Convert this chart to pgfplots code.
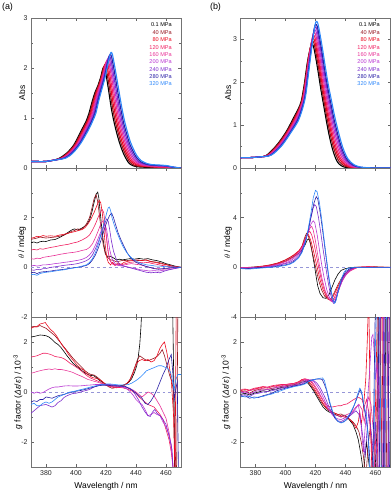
\documentclass[border=0pt]{standalone}
\usepackage{fontspec}
\setmainfont{Liberation Sans}
\usepackage{pgfplots}
\pgfplotsset{compat=1.18}
\definecolor{c0}{RGB}{0,0,0}
\definecolor{c1}{RGB}{150,20,30}
\definecolor{c2}{RGB}{235,10,30}
\definecolor{c3}{RGB}{240,30,95}
\definecolor{c4}{RGB}{232,50,150}
\definecolor{c5}{RGB}{185,55,210}
\definecolor{c6}{RGB}{125,45,205}
\definecolor{c7}{RGB}{40,30,165}
\definecolor{c8}{RGB}{45,135,250}
\definecolor{zl}{RGB}{150,150,215}
\tikzset{leg/.style={anchor=east, inner sep=0pt, font=\fontsize{5.6}{6}\selectfont}}
\pgfplotsset{
  base/.style={scale only axis, width=150bp, xmin=370, xmax=470,
    xtick={380,400,420,440,460}, tick align=inside, tick pos=both,
    major tick length=3bp, minor tick length=1.8bp,
    axis line style={black!55, line width=0.8bp},
    every tick/.style={black!60, line width=0.5bp},
    /pgf/number format/assume math mode=true,
    tick label style={font=\fontsize{7}{8}\selectfont, text=black!85},
    label style={font=\fontsize{8.5}{10}\selectfont},
    clip=true},
  noxl/.style={xticklabel={\mbox{}}},
  yl/.style={ylabel style={at={(axis description cs:#1,0.5)}, anchor=center}},
  zline/.style={dashed, color=zl, line width=0.5bp},
  ab/.style={line width=1.1bp, smooth},
  cd/.style={line width=0.6bp},
}
\begin{document}
\begin{tikzpicture}
\path[use as bounding box] (0,0) rectangle (392bp,503bp);
\node[font=\fontsize{9}{10}\selectfont] at (7.5bp,495.5bp) {(a)};
\node[font=\fontsize{9}{10}\selectfont] at (215.5bp,495.5bp) {(b)};

% ================= (a) Abs =================
\begin{axis}[base, noxl, yl=-0.06, at={(31bp,335bp)}, anchor=south west, height=150bp,
  ymin=0, ymax=3, ytick={0,1,2,3}, minor ytick={0.5,1.5,2.5}, ylabel={Abs}]
\addplot[c0,ab] coordinates {(370,0.13)(380,0.13)(384,0.15)(388.5,0.19)(393.5,0.29)(398.5,0.46)(403.5,0.75)(406.5,0.92)(408.5,1.08)(410.5,1.30)(412.5,1.50)(414.5,1.64)(416.5,1.82)(417.5,1.95)(418.5,2.02)(419.5,1.95)(421.5,1.60)(423.5,1.20)(425.5,0.90)(427.5,0.66)(429.5,0.46)(431.5,0.30)(433.5,0.18)(435.5,0.09)(438.5,0.04)(442.5,0.02)(450,0.01)(455,0)(460,0)(465,0)(470,0)};
\addplot[c1,ab] coordinates {(370,0.13)(380,0.13)(384,0.15)(389.1,0.19)(394.1,0.29)(399.1,0.465)(404.1,0.75)(407.1,0.92)(409.1,1.08)(411.1,1.31)(413.1,1.51)(415.1,1.66)(417.1,1.85)(418.1,1.98)(419.1,2.06)(420.1,1.99)(422.1,1.64)(424.1,1.25)(426.1,0.94)(428.1,0.70)(430.1,0.49)(432.1,0.33)(434.1,0.205)(436.1,0.11)(439.1,0.05)(443.1,0.03)(450,0.02)(455,0.01)(460,0.006)(465,0)(470,0)};
\addplot[c2,ab] coordinates {(370,0.13)(380,0.13)(384,0.15)(389.7,0.19)(394.7,0.30)(399.7,0.47)(404.7,0.75)(407.7,0.93)(409.7,1.085)(411.7,1.315)(413.7,1.52)(415.7,1.68)(417.7,1.885)(418.7,2.02)(419.7,2.09)(420.7,2.03)(422.7,1.69)(424.7,1.30)(426.7,0.99)(428.7,0.73)(430.7,0.525)(432.7,0.355)(434.7,0.23)(436.7,0.13)(439.7,0.07)(443.7,0.04)(450,0.025)(455,0.015)(460,0.012)(465,0.005)(470,0)};
\addplot[c3,ab] coordinates {(370,0.13)(380,0.13)(384,0.15)(390.3,0.19)(395.3,0.30)(400.3,0.475)(405.3,0.75)(408.3,0.93)(410.3,1.09)(412.3,1.32)(414.3,1.53)(416.3,1.70)(418.3,1.92)(419.3,2.05)(420.3,2.13)(421.3,2.07)(423.3,1.73)(425.3,1.35)(427.3,1.03)(429.3,0.77)(431.3,0.56)(433.3,0.38)(435.3,0.255)(437.3,0.15)(440.3,0.08)(444.3,0.05)(450,0.03)(455,0.02)(460,0.019)(465,0.01)(470,0)};
\addplot[c4,ab] coordinates {(370,0.13)(380,0.13)(384,0.15)(390.9,0.195)(395.9,0.30)(400.9,0.48)(405.9,0.755)(408.9,0.935)(410.9,1.09)(412.9,1.33)(414.9,1.54)(416.9,1.72)(418.9,1.95)(419.9,2.085)(420.9,2.165)(421.9,2.11)(423.9,1.78)(425.9,1.40)(427.9,1.075)(429.9,0.805)(431.9,0.59)(433.9,0.41)(435.9,0.28)(437.9,0.175)(440.9,0.095)(444.9,0.055)(450,0.04)(455,0.03)(460,0.025)(465,0.01)(470,0)};
\addplot[c5,ab] coordinates {(370,0.13)(380,0.13)(384,0.15)(391.5,0.20)(396.5,0.30)(401.5,0.485)(406.5,0.755)(409.5,0.94)(411.5,1.09)(413.5,1.34)(415.5,1.55)(417.5,1.74)(419.5,1.98)(420.5,2.12)(421.5,2.20)(422.5,2.15)(424.5,1.82)(426.5,1.45)(428.5,1.12)(430.5,0.84)(432.5,0.62)(434.5,0.44)(436.5,0.305)(438.5,0.195)(441.5,0.11)(445.5,0.065)(450,0.05)(455,0.04)(460,0.031)(465,0.01)(470,0)};
\addplot[c6,ab] coordinates {(370,0.13)(380,0.13)(384,0.15)(392.1,0.20)(397.1,0.31)(402.1,0.49)(407.1,0.76)(410.1,0.94)(412.1,1.095)(414.1,1.345)(416.1,1.56)(418.1,1.76)(420.1,2.015)(421.1,2.15)(422.1,2.24)(423.1,2.19)(425.1,1.86)(427.1,1.50)(429.1,1.16)(431.1,0.88)(433.1,0.655)(435.1,0.465)(437.1,0.33)(439.1,0.22)(442.1,0.12)(446.1,0.075)(450,0.055)(455,0.045)(460,0.037)(465,0.015)(470,0)};
\addplot[c7,ab] coordinates {(370,0.13)(380,0.13)(384,0.15)(392.7,0.20)(397.7,0.31)(402.7,0.495)(407.7,0.76)(410.7,0.95)(412.7,1.10)(414.7,1.35)(416.7,1.57)(418.7,1.78)(420.7,2.05)(421.7,2.19)(422.7,2.27)(423.7,2.23)(425.7,1.91)(427.7,1.55)(429.7,1.21)(431.7,0.91)(433.7,0.69)(435.7,0.49)(437.7,0.355)(439.7,0.24)(442.7,0.135)(446.7,0.08)(450,0.06)(455,0.05)(460,0.044)(465,0.015)(470,0)};
\addplot[c8,ab] coordinates {(370,0.13)(380,0.13)(384,0.15)(393.3,0.20)(398.3,0.31)(403.3,0.50)(408.3,0.76)(411.3,0.95)(413.3,1.10)(415.3,1.36)(417.3,1.58)(419.3,1.80)(421.3,2.08)(422.3,2.22)(423.3,2.31)(424.3,2.27)(426.3,1.95)(428.3,1.60)(430.3,1.25)(432.3,0.95)(434.3,0.72)(436.3,0.52)(438.3,0.38)(440.3,0.26)(443.3,0.15)(447.3,0.09)(450,0.07)(455,0.06)(460,0.05)(465,0.02)(470,0)};
\node[leg,text=c0] at (rel axis cs:0.94,0.953) {0.1 MPa};
\node[leg,text=c1] at (rel axis cs:0.94,0.904) {40 MPa};
\node[leg,text=c2] at (rel axis cs:0.94,0.855) {80 MPa};
\node[leg,text=c3] at (rel axis cs:0.94,0.806) {120 MPa};
\node[leg,text=c4] at (rel axis cs:0.94,0.757) {160 MPa};
\node[leg,text=c5] at (rel axis cs:0.94,0.708) {200 MPa};
\node[leg,text=c6] at (rel axis cs:0.94,0.659) {240 MPa};
\node[leg,text=c7] at (rel axis cs:0.94,0.610) {280 MPa};
\node[leg,text=c8] at (rel axis cs:0.94,0.561) {320 MPa};
\end{axis}

% ================= (a) CD =================
\begin{axis}[base, noxl, yl=-0.06, at={(31bp,186bp)}, anchor=south west, height=149bp,
  ymin=-2, ymax=4, ytick={-2,0,2}, minor ytick={-1,1,3}, ylabel={$\theta$ / mdeg}]
\addplot[zline] coordinates {(370,0)(470,0)};
\addplot[c0,cd] coordinates {(370,1.0)(372,1.02)(374,0.98)(376,1.03)(378,1.05)(380,1.04)(383,1.1)(386,1.12)(389,1.2)(392,1.3)(395,1.42)(397,1.5)(399,1.55)(401,1.5)(403,1.55)(405,1.62)(407,1.7)(409,1.9)(410.5,2.2)(412,2.6)(413.5,2.95)(414.5,3.03)(415.2,2.8)(416,2.3)(417,1.7)(418,1.15)(419,0.75)(420,0.5)(421.5,0.42)(423,0.45)(425,0.38)(427,0.3)(429,0.33)(431,0.3)(433,0.32)(436,0.35)(439,0.33)(442,0.36)(445,0.33)(448,0.35)(451,0.3)(454,0.27)(457,0.22)(460,0.15)(463,0.1)(466,0.05)(470,0.0)};
\addplot[c1,cd] coordinates {(370,1.13)(372,1.15)(374,1.18)(376,1.22)(378,1.2)(380,1.18)(383,1.2)(386,1.22)(389,1.25)(392,1.3)(395,1.38)(397,1.45)(399,1.48)(401,1.55)(403,1.52)(405,1.6)(407,1.75)(409,2.0)(410.5,2.35)(412,2.75)(413.3,2.93)(414.3,2.7)(415.2,2.3)(416.2,1.8)(417.2,1.3)(418.2,0.9)(419.5,0.55)(421,0.4)(423,0.3)(425,0.28)(427,0.22)(429,0.25)(431,0.28)(434,0.27)(437,0.3)(440,0.28)(443,0.27)(446,0.3)(449,0.25)(452,0.22)(455,0.2)(458,0.15)(461,0.1)(464,0.05)(467,0.02)(470,0.0)};
\addplot[c2,cd] coordinates {(370,1.17)(372,1.2)(374,1.25)(376,1.23)(378,1.28)(380,1.25)(383,1.27)(386,1.25)(389,1.3)(392,1.33)(395,1.38)(398,1.42)(401,1.47)(404,1.52)(406,1.6)(408,1.75)(410,1.95)(412,2.2)(414,2.5)(415.5,2.7)(416.5,2.6)(417.5,2.2)(418.5,1.6)(419.5,0.9)(420.5,0.4)(421.5,0.2)(423,0.1)(424.5,0.2)(426,0.08)(428,0.18)(430,0.12)(432,0.2)(435,0.25)(438,0.28)(441,0.3)(444,0.27)(447,0.3)(450,0.22)(453,0.2)(456,0.15)(459,0.12)(462,0.08)(466,0.03)(470,0.0)};
\addplot[c3,cd] coordinates {(370,0.7)(372,0.72)(374,0.7)(376,0.75)(378,0.73)(380,0.76)(383,0.8)(386,0.83)(389,0.87)(392,0.9)(395,0.93)(398,0.98)(401,1.02)(404,1.1)(407,1.2)(409,1.3)(411,1.5)(413,1.75)(415,2.05)(416.5,2.25)(417.5,2.33)(418.5,2.2)(419.5,1.7)(420.5,1.1)(421.5,0.6)(422.5,0.3)(424,0.15)(426,0.1)(428,0.12)(430,0.1)(433,0.15)(436,0.2)(439,0.22)(442,0.2)(445,0.18)(448,0.2)(451,0.15)(454,0.12)(457,0.08)(460,0.05)(464,0.02)(470,0.0)};
\addplot[c4,cd] coordinates {(370,0.35)(372,0.33)(374,0.37)(376,0.35)(378,0.4)(380,0.42)(383,0.45)(386,0.48)(389,0.52)(392,0.55)(395,0.58)(398,0.6)(401,0.63)(404,0.68)(407,0.72)(409,0.8)(411,0.95)(413,1.2)(415,1.5)(416.5,1.75)(417.5,1.85)(418.5,1.87)(419.5,1.6)(420.5,1.1)(421.5,0.6)(422.5,0.3)(424,0.15)(426,0.08)(428,0.1)(431,0.08)(434,0.12)(437,0.15)(440,0.12)(443,0.1)(446,0.05)(449,0.0)(452,-0.05)(455,-0.05)(458,-0.08)(461,-0.05)(465,0.0)(470,0.0)};
\addplot[c5,cd] coordinates {(370,0.05)(372,0.08)(374,0.05)(376,0.07)(378,0.1)(380,0.1)(383,0.12)(386,0.15)(389,0.17)(392,0.2)(395,0.22)(398,0.25)(401,0.28)(404,0.32)(407,0.4)(409,0.5)(411,0.65)(413,0.9)(415,1.2)(417,1.5)(418.5,1.65)(419.5,1.7)(420.5,1.5)(421.5,1.1)(422.5,0.7)(424,0.35)(426,0.15)(428,0.08)(431,0.05)(434,0.02)(437,-0.02)(440,-0.05)(443,-0.1)(446,-0.12)(449,-0.15)(452,-0.13)(455,-0.15)(458,-0.12)(461,-0.1)(465,-0.05)(470,0.0)};
\addplot[c6,cd] coordinates {(370,-0.1)(372,-0.12)(374,-0.08)(376,-0.1)(378,-0.05)(380,-0.05)(383,0.0)(386,0.02)(389,0.05)(392,0.08)(395,0.1)(398,0.12)(401,0.15)(404,0.2)(407,0.27)(409,0.35)(411,0.5)(413,0.75)(415,1.05)(417,1.4)(419,1.75)(420.5,1.95)(421.5,1.85)(422.5,1.5)(423.5,1.1)(425,0.65)(427,0.3)(429,0.12)(432,0.05)(435,0.0)(438,-0.05)(441,-0.1)(444,-0.15)(447,-0.2)(450,-0.22)(453,-0.2)(456,-0.22)(459,-0.15)(462,-0.1)(466,-0.05)(470,0.0)};
\addplot[c7,cd] coordinates {(370,-0.22)(372,-0.2)(374,-0.25)(376,-0.2)(378,-0.18)(380,-0.17)(383,-0.15)(386,-0.12)(389,-0.1)(392,-0.08)(395,-0.05)(398,-0.02)(401,0.0)(404,0.03)(407,0.08)(409,0.15)(411,0.3)(413,0.5)(415,0.8)(417,1.15)(419,1.55)(421,1.9)(422.5,2.1)(423.8,2.18)(425,2.0)(426.5,1.7)(428,1.4)(430,1.1)(432,0.85)(434,0.6)(436,0.42)(438,0.3)(440,0.2)(443,0.12)(446,0.05)(449,0.0)(452,-0.05)(455,-0.08)(458,-0.05)(462,-0.03)(466,0.0)(470,0.0)};
\addplot[c8,cd] coordinates {(370,-0.3)(372,-0.28)(374,-0.32)(376,-0.25)(378,-0.22)(380,-0.2)(383,-0.18)(386,-0.15)(389,-0.12)(392,-0.1)(395,-0.06)(398,-0.03)(401,0.0)(404,0.05)(407,0.1)(409,0.2)(411,0.35)(413,0.6)(415,0.95)(417,1.4)(419,1.85)(420.5,2.2)(421.5,2.4)(422.2,2.43)(423,2.3)(424,2.0)(425.5,1.7)(427,1.45)(429,1.15)(431,0.88)(433,0.67)(435,0.5)(437,0.38)(439,0.3)(441,0.22)(444,0.15)(447,0.1)(450,0.08)(453,0.05)(456,0.05)(459,0.03)(463,0.02)(470,0.0)};
\end{axis}

% ================= (a) g =================
\begin{axis}[base, yl=-0.087, at={(31bp,36bp)}, anchor=south west, height=150bp,
  ymin=-3, ymax=3, ytick={-2,0,2}, minor ytick={-1,1},
  xlabel={Wavelength / nm},
  ylabel={\textit{g} factor (\textit{Δε}/\textit{ε}) / 10\textsuperscript{-3}}]
\addplot[zline] coordinates {(370,0)(470,0)};
\addplot[c0,cd] coordinates {(370,2.2)(372,2.22)(374,2.25)(376,2.28)(378,2.27)(380,2.25)(382,2.2)(384,2.1)(386,1.98)(388,1.9)(390,1.78)(392,1.62)(394,1.45)(396,1.3)(398,1.15)(400,1.05)(402,0.95)(404,0.85)(406,0.76)(408,0.7)(410,0.66)(412,0.65)(414,0.55)(416,0.45)(418,0.38)(420,0.3)(422,0.26)(424,0.24)(427,0.24)(430,0.25)(433,0.3)(435,0.38)(437,0.52)(439,0.78)(440.5,1.05)(441.5,1.4)(442.5,1.9)(443.3,2.6)(444,3.5)(446,5)(464,5)(465.2,0.4)(466,-5)(470,-5)};
\addplot[c1,cd] coordinates {(370,2.6)(372,2.62)(374,2.6)(376,2.66)(378,2.6)(380,2.55)(382,2.45)(384,2.35)(386,2.25)(388,2.1)(390,1.95)(392,1.8)(394,1.65)(396,1.5)(398,1.35)(400,1.22)(402,1.1)(404,0.98)(406,0.85)(408,0.76)(410,0.7)(412,0.68)(414,0.6)(416,0.5)(418,0.38)(420,0.28)(422,0.2)(424,0.15)(426,0.17)(428,0.2)(430,0.24)(432,0.28)(434,0.35)(436,0.5)(438,0.8)(439.5,1.05)(441,1.3)(442.5,1.45)(444,1.38)(446,1.3)(448,1.25)(450,1.3)(452,1.35)(454,1.42)(456,1.55)(457.5,1.7)(459,1.45)(461,1.0)(462.5,0.65)(464,0.4)(465,0.0)(466,-2.0)(467,-4)(468,4)(469,4)};
\addplot[c2,cd] coordinates {(370,2.55)(372,2.6)(374,2.62)(376,2.72)(378,2.75)(379.5,2.78)(381,2.65)(383,2.5)(385,2.4)(387,2.25)(389,2.05)(391,1.85)(393,1.7)(395,1.5)(397,1.35)(399,1.2)(401,1.05)(403,0.95)(405,0.88)(407,0.75)(409,0.65)(411,0.58)(413,0.55)(415,0.52)(417,0.45)(419,0.35)(421,0.27)(423,0.22)(425,0.18)(427,0.17)(429,0.18)(431,0.22)(433,0.3)(435,0.4)(437,0.6)(439,0.9)(440.5,1.15)(442,1.25)(444,1.3)(446,1.25)(448,1.3)(450,1.2)(452,1.25)(454,1.45)(456,1.75)(457.5,1.9)(459,2.0)(460.5,1.6)(462,1.1)(463.5,0.5)(465,-0.9)(466,-3.5)(467,5)(468,5)};
\addplot[c3,cd] coordinates {(370,1.4)(372,1.42)(374,1.45)(376,1.5)(378,1.55)(380,1.55)(382,1.52)(384,1.48)(386,1.42)(388,1.4)(390,1.38)(392,1.33)(394,1.25)(396,1.15)(398,1.08)(400,1.0)(402,0.92)(404,0.82)(406,0.72)(408,0.62)(410,0.55)(412,0.5)(414,0.45)(416,0.4)(418,0.33)(420,0.27)(422,0.23)(425,0.2)(428,0.18)(431,0.17)(434,0.12)(437,0.05)(440,-0.05)(442,-0.2)(444,-0.3)(446,-0.4)(448,-0.5)(450,-0.55)(452,-0.6)(454,-0.75)(456,-0.9)(458,-1.1)(460,-1.5)(462,-1.9)(463.5,-2.4)(465,-3.2)(466,-5)};
\addplot[c4,cd] coordinates {(370,0.75)(372,0.78)(374,0.82)(376,0.85)(378,0.88)(380,0.9)(382,0.92)(384,0.9)(386,0.93)(388,0.9)(390,0.9)(392,0.88)(394,0.85)(396,0.82)(398,0.78)(400,0.72)(402,0.67)(404,0.62)(406,0.56)(408,0.5)(410,0.47)(412,0.43)(414,0.4)(416,0.36)(418,0.32)(420,0.28)(423,0.23)(426,0.2)(429,0.2)(432,0.2)(435,0.15)(438,0.08)(440,0.0)(442,-0.1)(444,-0.2)(446,-0.1)(448,0.0)(450,-0.05)(452,-0.15)(454,-0.35)(456,-0.55)(458,-0.8)(460,-1.05)(462,-1.6)(463.5,-2.2)(465,-3.2)(466,-5)};
\addplot[c5,cd] coordinates {(370,0.0)(372,-0.05)(374,0.0)(376,-0.05)(378,-0.02)(380,0.05)(382,0.12)(384,0.17)(386,0.2)(388,0.2)(390,0.22)(392,0.24)(395,0.25)(398,0.24)(401,0.24)(404,0.25)(407,0.27)(410,0.28)(413,0.3)(416,0.3)(419,0.3)(422,0.3)(425,0.28)(428,0.25)(431,0.2)(434,0.12)(436,0.02)(438,-0.12)(440,-0.3)(442,-0.42)(444,-0.5)(446,-0.7)(448,-0.95)(450,-0.9)(452,-0.82)(454,-0.9)(456,-0.95)(458,-1.2)(460,-1.4)(462,-1.7)(463.5,-2.1)(464.5,-2.8)(465.5,-5)};
\addplot[c6,cd] coordinates {(370,-0.85)(372,-0.75)(374,-0.65)(376,-0.55)(378,-0.52)(380,-0.5)(382,-0.55)(384,-0.6)(386,-0.55)(388,-0.42)(390,-0.35)(392,-0.22)(394,-0.15)(396,-0.1)(398,-0.06)(400,-0.05)(403,0.0)(406,0.05)(409,0.1)(412,0.2)(415,0.26)(418,0.3)(421,0.3)(424,0.28)(427,0.25)(430,0.23)(433,0.2)(436,0.15)(438,0.05)(440,-0.15)(442,-0.35)(444,-0.6)(446,-0.8)(448,-0.95)(449.5,-0.98)(451,-0.8)(452.5,-0.7)(454,-0.85)(456,-0.95)(458,-1.1)(460,-1.3)(462,-1.75)(464,-2.3)(465,-3.5)(466.5,-5)};
\addplot[c7,cd] coordinates {(370,-0.4)(372,-0.35)(374,-0.38)(376,-0.3)(378,-0.3)(380,-0.2)(382,-0.22)(384,-0.25)(386,-0.2)(388,-0.15)(390,-0.12)(392,-0.1)(394,-0.05)(396,-0.03)(398,0.0)(400,0.03)(403,0.06)(406,0.1)(409,0.15)(412,0.2)(415,0.25)(418,0.27)(421,0.27)(424,0.25)(427,0.24)(430,0.24)(433,0.22)(436,0.12)(438,0.05)(440,-0.05)(442,-0.15)(444,-0.25)(446,-0.45)(448,-0.5)(450,-0.35)(452,-0.15)(454,0.1)(456,0.4)(458,0.7)(460,0.95)(462,1.3)(463.5,1.5)(464.5,0.8)(465.5,-0.3)(466.5,0.1)(467.5,0.4)(468.5,-4)};
\addplot[c8,cd] coordinates {(370,-0.5)(372,-0.45)(374,-0.55)(376,-0.55)(378,-0.45)(380,-0.4)(382,-0.45)(384,-0.4)(386,-0.3)(388,-0.2)(390,-0.15)(392,-0.1)(394,-0.05)(396,0.0)(399,0.03)(402,0.08)(405,0.12)(408,0.17)(411,0.22)(414,0.26)(417,0.3)(420,0.32)(423,0.32)(426,0.3)(429,0.28)(432,0.28)(435,0.3)(437,0.35)(439,0.42)(441,0.5)(443,0.6)(445,0.72)(447,0.85)(449,0.9)(451,0.95)(453,1.0)(455,1.05)(457,1.05)(459,1.0)(461,0.95)(463,0.8)(464.5,0.4)(465.5,0.1)(466.5,0.5)(468,0.7)(470,0.7)};
\end{axis}

% ================= (b) Abs =================
\begin{axis}[base, noxl, yl=-0.083, at={(240.5bp,335bp)}, anchor=south west, height=150bp,
  ymin=0, ymax=3.5, ytick={0,1,2,3}, minor ytick={0.5,1.5,2.5}, ylabel={Abs}]
\addplot[c0,ab] coordinates {(370,0.24)(378,0.245)(383,0.26)(387.5,0.30)(394.5,0.55)(400.5,0.85)(405.5,1.18)(408.5,1.38)(410.5,1.56)(412.5,1.95)(414.5,2.45)(416.5,2.80)(417.5,2.90)(418.5,2.85)(419.5,2.70)(421.5,2.30)(423.5,1.85)(425.5,1.45)(427.5,1.05)(429.5,0.70)(431.5,0.42)(433.5,0.22)(435.5,0.10)(438.5,0.03)(442.5,0)(447.5,0)(460,0)(470,0)};
\addplot[c1,ab] coordinates {(370,0.24)(378,0.245)(383,0.26)(387.9,0.30)(394.9,0.55)(400.9,0.85)(405.9,1.17)(408.9,1.38)(410.9,1.58)(412.9,1.99)(414.9,2.49)(416.9,2.86)(417.9,2.965)(418.9,2.92)(419.9,2.765)(421.9,2.365)(423.9,1.915)(425.9,1.51)(427.9,1.12)(429.9,0.77)(431.9,0.49)(433.9,0.28)(435.9,0.145)(438.9,0.055)(442.9,0.01)(447.9,0)(460,0)(470,0)};
\addplot[c2,ab] coordinates {(370,0.24)(378,0.245)(383,0.26)(388.3,0.30)(395.3,0.54)(401.3,0.84)(406.3,1.16)(409.3,1.385)(411.3,1.595)(413.3,2.025)(415.3,2.54)(417.3,2.925)(418.3,3.03)(419.3,2.98)(420.3,2.83)(422.3,2.43)(424.3,1.98)(426.3,1.575)(428.3,1.19)(430.3,0.84)(432.3,0.55)(434.3,0.335)(436.3,0.19)(439.3,0.08)(443.3,0.02)(448.3,0.005)(460,0)(470,0)};
\addplot[c3,ab] coordinates {(370,0.24)(378,0.245)(383,0.26)(388.6,0.30)(395.6,0.54)(401.6,0.84)(406.6,1.15)(409.6,1.39)(411.6,1.61)(413.6,2.06)(415.6,2.58)(417.6,2.99)(418.6,3.095)(419.6,3.05)(420.6,2.895)(422.6,2.495)(424.6,2.045)(426.6,1.64)(428.6,1.26)(430.6,0.91)(432.6,0.62)(434.6,0.39)(436.6,0.23)(439.6,0.10)(443.6,0.03)(448.6,0.01)(460,0)(470,0)};
\addplot[c4,ab] coordinates {(370,0.24)(378,0.245)(383,0.26)(389,0.30)(396,0.535)(402,0.835)(407,1.14)(410,1.39)(412,1.63)(414,2.10)(416,2.625)(418,3.05)(419,3.16)(420,3.115)(421,2.96)(423,2.56)(425,2.11)(427,1.70)(429,1.325)(431,0.975)(433,0.685)(435,0.45)(437,0.275)(440,0.125)(444,0.04)(449,0.01)(460,0)(470,0)};
\addplot[c5,ab] coordinates {(370,0.24)(378,0.245)(383,0.26)(389.4,0.30)(396.4,0.53)(402.4,0.83)(407.4,1.13)(410.4,1.39)(412.4,1.65)(414.4,2.14)(416.4,2.67)(418.4,3.11)(419.4,3.225)(420.4,3.18)(421.4,3.025)(423.4,2.625)(425.4,2.175)(427.4,1.76)(429.4,1.39)(431.4,1.04)(433.4,0.75)(435.4,0.51)(437.4,0.32)(440.4,0.15)(444.4,0.05)(449.4,0.01)(460,0)(470,0)};
\addplot[c6,ab] coordinates {(370,0.24)(378,0.245)(383,0.26)(389.8,0.30)(396.8,0.53)(402.8,0.83)(407.8,1.12)(410.8,1.395)(412.8,1.665)(414.8,2.175)(416.8,2.71)(418.8,3.175)(419.8,3.29)(420.8,3.25)(421.8,3.09)(423.8,2.69)(425.8,2.24)(427.8,1.825)(429.8,1.46)(431.8,1.11)(433.8,0.82)(435.8,0.565)(437.8,0.36)(440.8,0.17)(444.8,0.06)(449.8,0.015)(460,0)(470,0)};
\addplot[c7,ab] coordinates {(370,0.24)(378,0.245)(383,0.26)(390.1,0.30)(397.1,0.52)(403.1,0.82)(408.1,1.11)(411.1,1.40)(413.1,1.68)(415.1,2.21)(417.1,2.76)(419.1,3.24)(420.1,3.355)(421.1,3.31)(422.1,3.155)(424.1,2.755)(426.1,2.305)(428.1,1.89)(430.1,1.53)(432.1,1.18)(434.1,0.885)(436.1,0.62)(438.1,0.405)(441.1,0.195)(445.1,0.07)(450.1,0.015)(460,0)(470,0)};
\addplot[c8,ab] coordinates {(370,0.24)(378,0.245)(383,0.26)(390.5,0.30)(397.5,0.52)(403.5,0.82)(408.5,1.10)(411.5,1.40)(413.5,1.70)(415.5,2.25)(417.5,2.80)(419.5,3.30)(420.5,3.42)(421.5,3.38)(422.5,3.22)(424.5,2.82)(426.5,2.37)(428.5,1.95)(430.5,1.60)(432.5,1.25)(434.5,0.95)(436.5,0.68)(438.5,0.45)(441.5,0.22)(445.5,0.08)(450.5,0.02)(460,0)(470,0)};
\node[leg,text=c0] at (rel axis cs:0.93,0.953) {0.1 MPa};
\node[leg,text=c1] at (rel axis cs:0.93,0.904) {40 MPa};
\node[leg,text=c2] at (rel axis cs:0.93,0.855) {80 MPa};
\node[leg,text=c3] at (rel axis cs:0.93,0.806) {120 MPa};
\node[leg,text=c4] at (rel axis cs:0.93,0.757) {160 MPa};
\node[leg,text=c5] at (rel axis cs:0.93,0.708) {200 MPa};
\node[leg,text=c6] at (rel axis cs:0.93,0.659) {240 MPa};
\node[leg,text=c7] at (rel axis cs:0.93,0.610) {280 MPa};
\node[leg,text=c8] at (rel axis cs:0.93,0.561) {320 MPa};
\end{axis}

% ================= (b) CD =================
\begin{axis}[base, noxl, yl=-0.083, at={(240.5bp,186bp)}, anchor=south west, height=149bp,
  ymin=-4, ymax=8, ytick={-4,0,4}, minor ytick={-2,2,6}, ylabel={$\theta$ / mdeg}]
\addplot[zline] coordinates {(370,0)(470,0)};
\addplot[c0,cd] coordinates {(370,0.0)(375,-0.05)(380,0.0)(385,0.05)(390,0.15)(395,0.3)(400,0.5)(403,0.7)(406,0.9)(409,1.15)(411,1.4)(413,1.8)(414.5,2.2)(415.5,2.3)(416.5,2.0)(417.5,1.4)(418.5,0.7)(419.5,0.0)(420.5,-0.8)(421.5,-1.5)(423,-2.1)(425,-2.45)(427,-2.5)(429,-2.2)(431,-1.6)(433,-1.0)(435,-0.55)(437,-0.25)(440,-0.1)(445,0.0)(450,0.02)(460,0.0)(470,0.0)};
\addplot[c1,cd] coordinates {(370,0.0)(375,0.0)(380,0.05)(385,0.1)(390,0.2)(395,0.35)(400,0.6)(403,0.8)(406,1.0)(409,1.3)(411,1.7)(412.5,2.3)(414,2.75)(415,2.6)(416,2.2)(417.5,1.4)(419,0.6)(420.5,-0.2)(422,-1.0)(424,-1.8)(426,-2.3)(428,-2.55)(429.5,-2.6)(431,-2.4)(433,-1.9)(435,-1.4)(437,-0.95)(439,-0.6)(442,-0.3)(446,-0.05)(450,0.0)(460,0.05)(470,0.0)};
\addplot[c2,cd] coordinates {(370,-0.05)(375,0.0)(380,0.0)(385,0.1)(390,0.2)(395,0.35)(400,0.6)(403,0.8)(406,1.05)(409,1.35)(411,1.7)(413,2.3)(414.5,2.7)(415.5,2.6)(417,2.1)(418.5,1.4)(420,0.6)(421.5,-0.2)(423,-1.0)(425,-1.8)(427,-2.3)(429,-2.6)(430.5,-2.6)(432,-2.3)(434,-1.8)(436,-1.3)(438,-0.85)(440,-0.5)(443,-0.2)(447,0.0)(455,0.05)(460,0.02)(470,0.0)};
\addplot[c3,cd] coordinates {(370,0.0)(375,-0.05)(380,0.0)(385,0.05)(390,0.15)(395,0.3)(400,0.5)(403,0.7)(406,0.95)(409,1.3)(411,1.65)(413,2.2)(415,2.75)(416.2,2.9)(417.5,2.6)(419,1.9)(420.5,1.0)(422,0.1)(423.5,-0.8)(425.5,-1.7)(427.5,-2.3)(429.5,-2.65)(431,-2.7)(432.5,-2.45)(434.5,-1.9)(436.5,-1.35)(438.5,-0.9)(441,-0.5)(444,-0.2)(448,0.0)(455,0.05)(460,0.0)(470,0.0)};
\addplot[c4,cd] coordinates {(370,0.0)(375,0.0)(380,0.0)(385,0.05)(390,0.1)(395,0.25)(400,0.45)(403,0.6)(406,0.85)(409,1.2)(411,1.55)(413,2.1)(415,2.8)(416.5,3.2)(417.5,3.3)(418.5,3.0)(420,2.1)(421.5,1.0)(423,-0.1)(424.5,-1.0)(426.5,-1.9)(428.5,-2.45)(430.5,-2.75)(432,-2.7)(433.5,-2.4)(435.5,-1.8)(437.5,-1.2)(440,-0.65)(443,-0.3)(448,0.0)(455,0.02)(460,0.0)(470,0.0)};
\addplot[c5,cd] coordinates {(370,-0.05)(375,-0.05)(380,0.0)(385,0.0)(390,0.1)(395,0.2)(400,0.35)(403,0.5)(406,0.75)(409,1.1)(411,1.5)(413,2.1)(415,2.8)(417,3.5)(418.5,3.75)(419.5,3.6)(421,2.7)(422.5,1.5)(424,0.3)(425.5,-0.7)(427.5,-1.8)(429.5,-2.5)(431.5,-2.8)(433,-2.7)(434.5,-2.2)(436.5,-1.5)(438.5,-0.9)(441,-0.45)(444,-0.15)(447,0.0)(455,0.0)(470,0.0)};
\addplot[c6,cd] coordinates {(370,-0.05)(375,-0.1)(380,-0.05)(385,0.0)(390,0.05)(395,0.15)(400,0.3)(403,0.4)(406,0.6)(409,0.95)(411,1.35)(413,2.0)(415,2.9)(417,4.0)(418.5,4.8)(419.5,5.05)(420.5,4.9)(422,4.0)(423.5,2.8)(425,1.5)(426.5,0.3)(428,-0.9)(429.5,-1.9)(431,-2.6)(432,-2.9)(433,-2.8)(434.5,-2.2)(436.5,-1.4)(438.5,-0.8)(441,-0.35)(444,-0.1)(447,0.0)(455,0.0)(470,0.0)};
\addplot[c7,cd] coordinates {(370,-0.1)(375,-0.1)(380,-0.05)(385,0.0)(390,0.0)(395,0.1)(400,0.2)(403,0.3)(406,0.5)(409,0.85)(411,1.25)(413,1.9)(415,2.9)(417,4.1)(419,5.2)(420.5,5.7)(421.5,5.5)(423,4.5)(424.5,3.2)(426,1.8)(427.5,0.4)(429,-1.0)(430.5,-2.0)(432,-2.7)(433,-2.85)(434,-2.5)(435.5,-1.7)(437.5,-0.9)(440,-0.35)(443,-0.1)(447,0.0)(455,0.0)(470,0.0)};
\addplot[c8,cd] coordinates {(370,-0.1)(375,-0.15)(380,-0.1)(385,-0.05)(390,0.0)(395,0.05)(400,0.15)(403,0.25)(406,0.45)(409,0.8)(411,1.2)(413,1.9)(415,3.0)(417,4.4)(418.5,5.6)(420,6.2)(421,6.1)(422.5,5.3)(424,4.0)(425.5,2.5)(427,1.0)(428.5,-0.4)(430,-1.6)(431.5,-2.5)(432.5,-2.9)(433.5,-2.75)(435,-2.0)(437,-1.0)(439,-0.4)(441,-0.1)(445,0.0)(455,0.0)(470,0.0)};
\end{axis}

% ================= (b) g =================
\begin{axis}[base, yl=-0.097, at={(240.5bp,36bp)}, anchor=south west, height=150bp,
  ymin=-3, ymax=3, ytick={-2,0,2}, minor ytick={-1,1},
  xlabel={Wavelength / nm},
  ylabel={\textit{g} factor (\textit{Δε}/\textit{ε}) / 10\textsuperscript{-3}}]
\addplot[zline] coordinates {(370,0)(470,0)};
\addplot[c0,cd] coordinates {(370,-0.1)(373,-0.05)(376,-0.12)(379,-0.05)(382,0.0)(385,0.05)(388,0.02)(391,0.1)(394,0.12)(397,0.18)(400,0.2)(403,0.25)(406,0.28)(409,0.33)(411,0.4)(413,0.42)(415,0.35)(417,0.2)(419,0.02)(421,-0.2)(423,-0.4)(425,-0.6)(427,-0.72)(429,-0.8)(431,-0.85)(433,-0.9)(435,-0.95)(437,-1.0)(439,-0.92)(441,-0.98)(443,-1.15)(445,-1.3)(447,-1.6)(448.5,-1.9)(450,-2.4)(451,-2.8)(452,-3.3)(453,-2.6)(454,-2.0)(455.5,-2.8)(457,-3.5)(459,-4)(461,-1.5)(462,4)(463,4)(464,-4)(466,-4)(467,4)(468,4)(469,-4)};
\addplot[c1,cd] coordinates {(370,0.0)(373,0.05)(376,-0.05)(379,0.05)(382,0.1)(385,0.12)(388,0.1)(391,0.15)(394,0.18)(397,0.22)(400,0.25)(403,0.28)(406,0.3)(409,0.38)(411,0.45)(413,0.48)(415,0.4)(417,0.25)(419,0.08)(421,-0.12)(423,-0.32)(425,-0.5)(427,-0.65)(429,-0.75)(431,-0.8)(433,-0.85)(435,-0.9)(437,-0.88)(439,-0.95)(441,-1.0)(443,-1.1)(445,-1.2)(447,-1.35)(449,-1.6)(450.5,-2.0)(452,-2.6)(453.5,-3.5)(455,-2.2)(456.5,-1.4)(458,-2.5)(459.5,-4)(461,-4)(462.5,4)(464,4)(465.5,-4)(467,-4)(468.5,4)(470,4)};
\addplot[c2,cd] coordinates {(370,0.05)(373,0.1)(376,0.05)(379,0.12)(382,0.15)(385,0.2)(388,0.15)(391,0.22)(394,0.25)(397,0.28)(400,0.3)(403,0.32)(406,0.35)(409,0.42)(411,0.5)(413,0.52)(415,0.45)(417,0.32)(419,0.15)(421,-0.05)(423,-0.25)(425,-0.45)(427,-0.6)(429,-0.7)(431,-0.8)(433,-0.85)(435,-0.9)(437,-0.95)(439,-1.0)(441,-1.05)(443,-1.1)(445,-1.25)(447,-1.45)(448.5,-1.2)(449.5,-0.8)(450.5,-1.3)(452,-0.6)(453.5,0.5)(454.5,2.0)(455.5,4)(456.5,-1.0)(457.5,-3.0)(458.5,-4)(460,-0.5)(461.5,4)(463,4)(464.5,-4)(466,-4)(467.5,4)(469,4)};
\addplot[c3,cd] coordinates {(370,0.1)(373,0.12)(376,0.08)(379,0.15)(382,0.18)(385,0.22)(388,0.2)(391,0.25)(394,0.28)(397,0.3)(400,0.3)(403,0.33)(406,0.35)(409,0.4)(411,0.5)(413,0.53)(415,0.5)(417,0.4)(419,0.25)(421,0.05)(423,-0.15)(425,-0.35)(427,-0.5)(429,-0.58)(431,-0.6)(433,-0.58)(435,-0.55)(437,-0.55)(439,-0.5)(441,-0.48)(443,-0.4)(445,-0.32)(447,-0.25)(449,-0.22)(451,-0.3)(452.5,-0.6)(454,-0.3)(455.5,-0.8)(457,-1.8)(458,-3.0)(459,-4)(460.5,-1.0)(462,2.0)(463,4)(464.5,4)(466,-4)(468,-4)(469.5,4)};
\addplot[c4,cd] coordinates {(370,0.05)(373,0.0)(376,0.05)(379,0.1)(382,0.12)(385,0.15)(388,0.18)(391,0.2)(394,0.22)(397,0.25)(400,0.28)(403,0.3)(406,0.33)(409,0.38)(411,0.45)(413,0.5)(415,0.5)(417,0.45)(419,0.3)(421,0.12)(423,-0.1)(425,-0.32)(427,-0.55)(429,-0.72)(431,-0.85)(433,-0.92)(435,-0.95)(437,-1.0)(439,-0.95)(441,-0.9)(443,-0.85)(445,-0.75)(447,-0.6)(449,-0.5)(451,-0.7)(452.5,-1.2)(454,-0.6)(455.5,-0.2)(457,-0.5)(458.5,-1.5)(460,-4)(461.5,-2)(463,4)(465,4)(466.5,-4)(468.5,-4)};
\addplot[c5,cd] coordinates {(370,-0.05)(373,0.0)(376,-0.08)(379,0.0)(382,0.05)(385,0.08)(388,0.1)(391,0.12)(394,0.18)(397,0.2)(400,0.22)(403,0.25)(406,0.28)(409,0.32)(411,0.38)(413,0.45)(415,0.48)(417,0.48)(419,0.4)(421,0.25)(423,0.05)(425,-0.2)(427,-0.45)(429,-0.7)(431,-0.9)(433,-1.02)(435,-1.08)(437,-1.1)(439,-1.05)(441,-1.0)(443,-0.9)(445,-0.8)(447,-0.65)(448.5,-0.5)(450,-1.0)(451,-1.8)(452,-2.4)(453,-1.5)(454.5,-0.5)(456,0.8)(457.5,2.2)(458.3,2.3)(459.2,1.5)(460,0.5)(461,1.2)(462,-1)(463,-4)(464.5,-4)(466,4)(467.5,4)(469,-4)};
\addplot[c6,cd] coordinates {(370,-0.15)(373,-0.1)(376,-0.18)(379,-0.08)(382,-0.05)(385,0.0)(388,0.02)(391,0.05)(394,0.1)(397,0.15)(400,0.18)(403,0.2)(406,0.25)(409,0.28)(411,0.33)(413,0.4)(415,0.45)(417,0.48)(419,0.45)(421,0.35)(423,0.18)(425,-0.05)(427,-0.3)(429,-0.6)(431,-0.85)(433,-1.05)(435,-1.15)(437,-1.18)(439,-1.12)(441,-1.05)(443,-0.95)(445,-0.85)(447,-0.75)(449,-0.9)(450.5,-1.3)(452,-2.0)(453,-2.6)(454,-1.8)(455.5,-0.8)(457,-1.5)(458.5,-2.4)(460,-1.2)(461,-3)(462,-4)(463.5,4)(465,4)(466.5,-4)(468,-4)(469.5,4)};
\addplot[c7,cd] coordinates {(370,-0.2)(373,-0.15)(376,-0.25)(379,-0.2)(382,-0.22)(385,-0.15)(388,-0.1)(391,-0.05)(394,0.05)(397,0.1)(400,0.15)(403,0.2)(406,0.24)(409,0.28)(411,0.3)(413,0.35)(415,0.42)(417,0.48)(419,0.5)(421,0.52)(423,0.52)(424.5,0.5)(426,0.3)(427.5,0.05)(429,-0.35)(431,-0.75)(433,-1.05)(435,-1.18)(437,-1.22)(439,-1.18)(441,-1.1)(443,-0.9)(445,-0.65)(447,-0.35)(448.5,-0.1)(449.8,0.1)(451,-0.1)(452,-0.5)(453.5,-1.0)(455,-1.6)(456,-2.5)(457,-4)(458.5,-2)(460,4)(461.5,4)(463,-4)(465,-4)(466.5,4)(468,4)(469.5,-4)};
\addplot[c8,cd] coordinates {(370,-0.15)(373,-0.2)(376,-0.18)(379,-0.25)(382,-0.2)(385,-0.18)(388,-0.12)(391,-0.08)(394,0.0)(397,0.05)(400,0.12)(403,0.17)(406,0.22)(409,0.25)(411,0.28)(413,0.32)(415,0.4)(417,0.45)(419,0.5)(421,0.52)(423,0.55)(424.8,0.56)(426,0.45)(427.2,0.15)(428.3,-0.1)(430,-0.5)(431.6,-0.8)(433.5,-1.05)(435,-1.18)(437,-1.24)(439,-1.2)(440.5,-1.1)(442,-0.95)(443.8,-0.77)(446,-0.5)(448,-0.1)(449.5,0.15)(450.5,0.05)(451.6,-0.25)(452.5,-0.6)(453.8,-0.9)(455,-1.8)(456,-3)(457,-4)(458.5,-4)(460,2)(461,4)(462.5,4)(464,-4)(466,-4)(467.5,4)(469,4)};
\end{axis}
\end{tikzpicture}
\end{document}
